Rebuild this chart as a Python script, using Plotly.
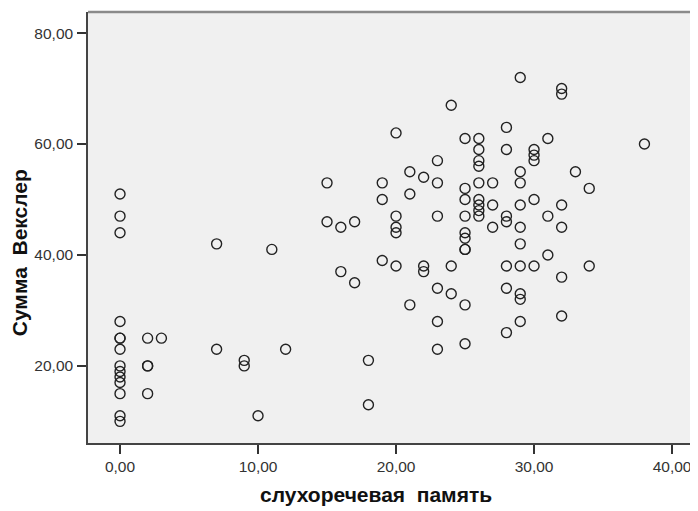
import plotly.graph_objects as go

# слухоречевая память (x) and Сумма Векслер (y)
memory = [
    0, 0, 0, 0, 0, 0, 0, 0, 0, 0, 0, 0, 0, 0,
    2, 2, 2, 2,
    3,
    7, 7,
    9, 9,
    10,
    11,
    12,
    15, 15,
    16, 16,
    17, 17,
    18, 18,
    19, 19, 19,
    20, 20, 20, 20, 20,
    21, 21, 21,
    22, 22, 22,
    23, 23, 23, 23, 23, 23,
    24, 24, 24,
    25, 25, 25, 25, 25, 25, 25, 25, 25, 25,
    26, 26, 26, 26, 26, 26, 26, 26, 26,
    27, 27, 27,
    28, 28, 28, 28, 28, 28, 28,
    29, 29, 29, 29, 29, 29, 29, 29, 29, 29,
    30, 30, 30, 30, 30,
    31, 31, 31,
    32, 32, 32, 32, 32, 32,
    33,
    34, 34,
    38,
]
wechsler = [
    51, 47, 44, 28, 25, 25, 23, 20, 19, 18, 17, 15, 11, 10,
    25, 20, 20, 15,
    25,
    42, 23,
    21, 20,
    11,
    41,
    23,
    53, 46,
    45, 37,
    46, 35,
    21, 13,
    53, 50, 39,
    62, 47, 45, 44, 38,
    55, 51, 31,
    54, 38, 37,
    57, 53, 47, 34, 28, 23,
    67, 38, 33,
    61, 52, 50, 47, 44, 43, 41, 41, 31, 24,
    61, 59, 57, 56, 53, 50, 49, 48, 47,
    53, 49, 45,
    63, 59, 47, 46, 38, 34, 26,
    72, 55, 53, 49, 45, 42, 38, 33, 32, 28,
    59, 58, 57, 50, 38,
    61, 47, 40,
    70, 69, 49, 45, 36, 29,
    55,
    52, 38,
    60,
]

x_title = "слухоречевая  память"
y_title = "Сумма  Векслер"

fig = go.Figure()
fig.add_trace(go.Scatter(
    x=memory, y=wechsler, mode="markers",
    marker=dict(symbol="circle-open", size=10, color="#222222",
                line=dict(width=1.4, color="#222222")),
    showlegend=False, hoverinfo="x+y",
))

font_family = "Liberation Sans, Arial, sans-serif"

# The page body adds an 8px margin, so the figure is sized 8px smaller.
fig.update_layout(
    width=690, height=503,
    margin=dict(l=80, r=0, t=4, b=68),
    paper_bgcolor="white",
    plot_bgcolor="#F0F0F0",
    separators=", ",
    font=dict(family=font_family, size=15, color="#333333"),
    xaxis=dict(
        range=[-2.32, 41.88], tick0=0, dtick=10, tickformat=".2f",
        showgrid=False, zeroline=False,
        showline=True, linecolor="#444444", linewidth=1.5,
        ticks="outside", ticklen=9, tickwidth=1.5, tickcolor="#333333",
        tickfont=dict(size=15.5, color="#333333"),
    ),
    yaxis=dict(
        range=[6.1, 83.8], tick0=0, dtick=20, tickformat=".2f",
        showgrid=False, zeroline=False,
        showline=True, linecolor="#444444", linewidth=1.5,
        ticks="outside", ticklen=9, tickwidth=1.5, tickcolor="#333333",
        tickfont=dict(size=15.5, color="#333333"),
        ticklabelstandoff=1,
    ),
    shapes=[dict(type="line", xref="paper", yref="paper",
                 x0=0, x1=1, y0=1, y1=1,
                 line=dict(color="#8a8a8a", width=2.5))],
    annotations=[
        dict(text="<b>" + x_title + "</b>", xref="paper", yref="paper",
             x=0.472, y=-0.1206, xanchor="center", yanchor="middle",
             showarrow=False, font=dict(size=21, family=font_family, color="#111111")),
        dict(text="<b>" + y_title + "</b>", xref="paper", yref="paper",
             x=-0.111, y=0.441, xanchor="center", yanchor="middle",
             textangle=-90, showarrow=False,
             font=dict(size=21, family=font_family, color="#111111")),
    ],
)

fig.write_html("out.html")
